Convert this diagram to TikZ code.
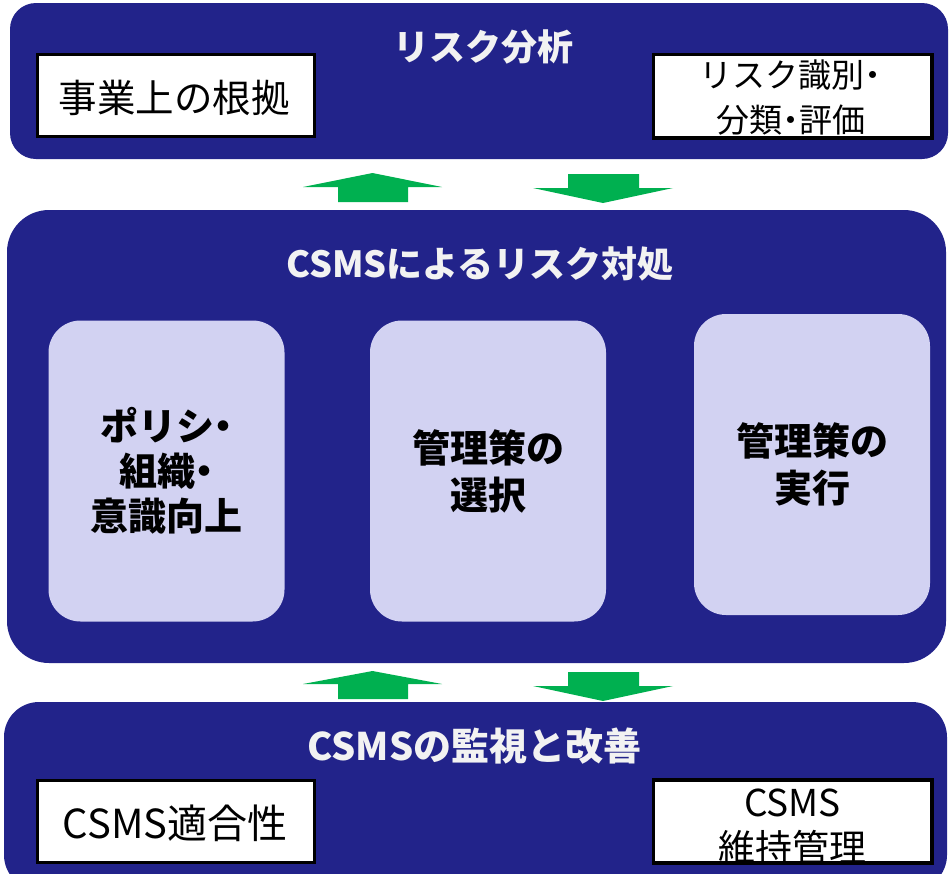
\documentclass[tikz,border=0pt]{standalone}
\usepackage{fontspec}
\setmainfont{Noto Sans CJK JP}
\newcommand{\pdot}{{\addfontfeature{RawFeature=+palt}・}}
\definecolor{navy}{RGB}{34,35,138}
\definecolor{innerbg}{RGB}{210,210,242}
\definecolor{arrowgreen}{RGB}{0,176,80}
\definecolor{titlegray}{RGB}{242,242,242}
\tikzset{
  band/.style={fill=navy, draw=none, inner sep=0pt},
  bandtitle/.style={text=titlegray, font=\bfseries\fontsize{36}{40}\selectfont, inner sep=0pt},
  wbox/.style={draw=black, line width=2.5pt, fill=white, minimum width=277pt, minimum height=82pt, inner sep=0pt},
  wtext/.style={text=black, inner sep=0pt},
  ibox/.style={fill=innerbg, draw=none, rounded corners=32pt, minimum width=236pt, minimum height=301pt, inner sep=0pt, align=center, text=black},
  garrow/.style={fill=arrowgreen, draw=none}
}
\begin{document}
\begin{tikzpicture}[x=1pt,y=-1pt]
\useasboundingbox (0,0) rectangle (950,873);
\clip (0,0) rectangle (950,873);
\fill[white] (0,0) rectangle (950,873);

% bands
\node[band, rounded corners=26pt, minimum width=938pt, minimum height=156pt] (topband) at (479,81) {};
\node[band, rounded corners=42pt, minimum width=939pt, minimum height=453pt] (midband) at (476.5,436.5) {};
\node[band, rounded corners=35pt, minimum width=943pt, minimum height=188pt] (botband) at (475.5,796) {};

% band titles
\node[bandtitle] (toptitle) at (483,47) {リスク分析};
\node[bandtitle] (midtitle) at (480,264) {CSMSによるリスク対処};
\node[bandtitle, font=\bfseries\fontsize{38}{42}\selectfont] (bottitle) at (474.5,746) {CSMSの監視と改善};

% white boxes (top)
\node[wbox] (wb1) at (176,95.5) {};
\node[wtext, font=\fontsize{38.5}{44}\selectfont] (wb1t) at (174,97.5) {事業上の根拠};
\node[wbox] (wb2) at (792.5,96) {};
\node[wtext, font=\fontsize{33}{40}\selectfont] (wb2a) at (790,75.5) {リスク識別\pdot};
\node[wtext, font=\fontsize{33}{40}\selectfont] (wb2b) at (791,120) {分類\pdot 評価};
\draw[line width=2.5pt] (wb2.north west) rectangle (wb2.south east);

% white boxes (bottom)
\node[wbox] (wb3) at (176,821.5) {};
\node[wtext, font=\fontsize{40}{46}\selectfont] (wb3t) at (175,823.5) {CSMS適合性};
\node[wbox] (wb4) at (792.5,821.5) {};
\node[wtext, font=\fontsize{37}{44}\selectfont] (wb4a) at (792.5,802.5) {CSMS};
\node[wtext, font=\fontsize{37}{44}\selectfont] (wb4b) at (792.5,847) {維持管理};
\draw[line width=2.5pt] (wb4.north west) rectangle (wb4.south east);

% inner boxes
\node[ibox, font=\bfseries\fontsize{38}{45}\selectfont] (b1) at (166.5,471) {ポリシ\pdot\\組織\pdot\\意識向上};
\node[ibox, font=\bfseries\fontsize{38}{47}\selectfont] (b2) at (488,471) {管理策の\\選択};
\node[ibox, font=\bfseries\fontsize{38}{47}\selectfont] (b3) at (812,464.5) {管理策の\\実行};

% arrows between top and middle
\fill[garrow] (372.5,173) -- (442,187) -- (408,187) -- (408,202) -- (338,202) -- (338,187) -- (303,187) -- cycle;
\fill[garrow] (568,174) -- (639,174) -- (639,188) -- (673,188) -- (603,203) -- (533,188) -- (568,188) -- cycle;
% arrows between middle and bottom
\fill[garrow] (372.5,671) -- (442,684) -- (408,684) -- (408,699) -- (338,699) -- (338,684) -- (303,684) -- cycle;
\fill[garrow] (568,672) -- (639,672) -- (639,686) -- (673,686) -- (603,701) -- (533,686) -- (568,686) -- cycle;
\end{tikzpicture}
\end{document}
